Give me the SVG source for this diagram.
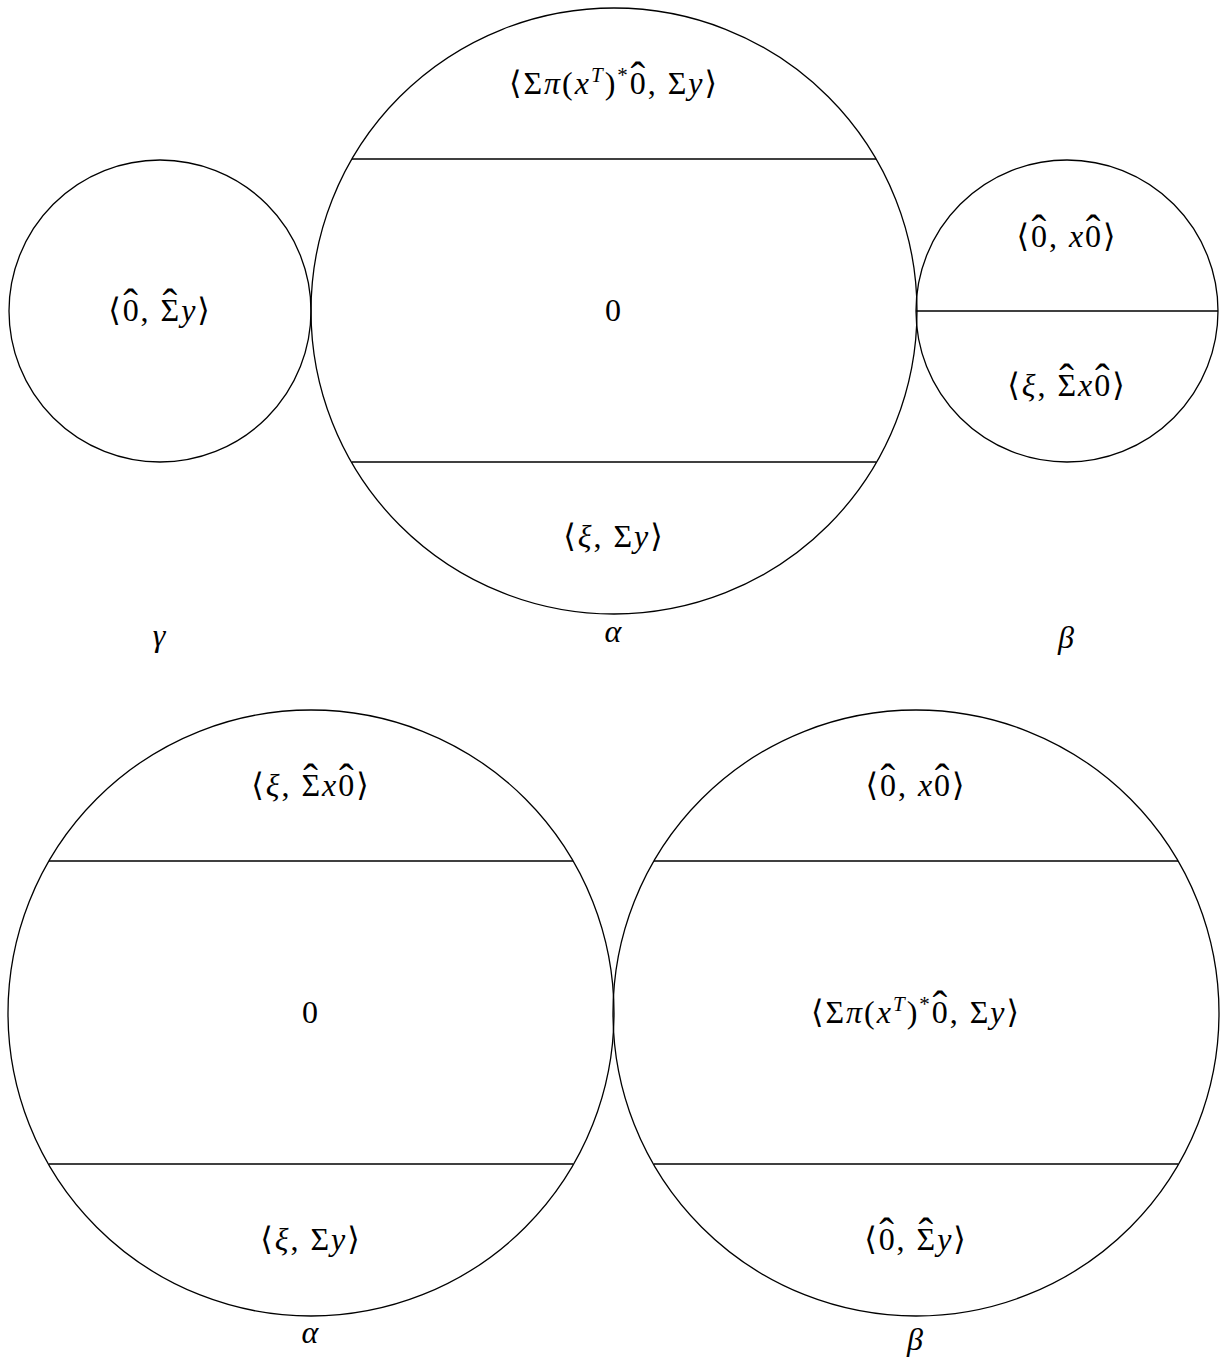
<svg xmlns="http://www.w3.org/2000/svg" width="1225" height="1357" viewBox="0 0 1225 1357">
<style>
.c{fill:none;stroke:#000;stroke-width:1.3}
.l{stroke:#000;stroke-width:1.3}
.t{font-family:'Liberation Serif','DejaVu Serif',serif;font-size:32px;fill:#000;text-anchor:middle;letter-spacing:2px}
.i{font-style:italic}
.s{font-size:21px}
.h{font-size:44px;letter-spacing:0;font-style:normal}
</style>
<rect width="1225" height="1357" fill="#fff"/>
<g id="gamma" class="t">
<circle class="c" cx="160" cy="311" r="151"/>
<text x="160" y="321">⟨<tspan>0</tspan><tspan class="h" dx="-17.35" dy="-2">ˆ</tspan><tspan dx="2.65" dy="2">, Σ</tspan><tspan class="h" dx="-18.8" dy="-2">ˆ</tspan><tspan class="i" dx="4.1" dy="2">y</tspan>⟩</text>
<text x="160" y="646" class="i">γ</text>
</g>
<g id="alpha-top" class="t">
<circle class="c" cx="614" cy="311" r="303"/>
<line class="l" x1="352" y1="159" x2="876" y2="159"/>
<line class="l" x1="352" y1="462" x2="876" y2="462"/>
<text x="614" y="94">⟨Σ<tspan class="i">π</tspan>(<tspan class="i">x</tspan><tspan class="i s" dy="-12">T</tspan><tspan dy="12">)</tspan><tspan class="s" dy="-12">*</tspan><tspan dy="12">0</tspan><tspan class="h" dx="-17.35" dy="-2">ˆ</tspan><tspan dx="2.65" dy="2">, Σ</tspan><tspan class="i">y</tspan>⟩</text>
<text x="614" y="321">0</text>
<text x="614" y="547">⟨<tspan class="i">ξ</tspan>, Σ<tspan class="i">y</tspan>⟩</text>
<text x="614" y="642" class="i">α</text>
</g>
<g id="beta-top" class="t">
<circle class="c" cx="1067" cy="311" r="151"/>
<line class="l" x1="916" y1="311" x2="1218" y2="311"/>
<text x="1067" y="247">⟨<tspan>0</tspan><tspan class="h" dx="-17.35" dy="-2">ˆ</tspan><tspan dx="2.65" dy="2">, </tspan><tspan class="i">x</tspan><tspan>0</tspan><tspan class="h" dx="-17.35" dy="-2">ˆ</tspan><tspan dx="2.65" dy="2">⟩</tspan></text>
<text x="1067" y="396">⟨<tspan class="i">ξ</tspan>, Σ<tspan class="h" dx="-18.8" dy="-2">ˆ</tspan><tspan class="i" dx="4.1" dy="2">x</tspan><tspan>0</tspan><tspan class="h" dx="-17.35" dy="-2">ˆ</tspan><tspan dx="2.65" dy="2">⟩</tspan></text>
<text x="1067" y="648" class="i">β</text>
</g>
<g id="alpha-bottom" class="t">
<circle class="c" cx="311" cy="1013" r="303"/>
<line class="l" x1="49" y1="861" x2="573" y2="861"/>
<line class="l" x1="49" y1="1164" x2="573" y2="1164"/>
<text x="311" y="796">⟨<tspan class="i">ξ</tspan>, Σ<tspan class="h" dx="-18.8" dy="-2">ˆ</tspan><tspan class="i" dx="4.1" dy="2">x</tspan><tspan>0</tspan><tspan class="h" dx="-17.35" dy="-2">ˆ</tspan><tspan dx="2.65" dy="2">⟩</tspan></text>
<text x="311" y="1023">0</text>
<text x="311" y="1250">⟨<tspan class="i">ξ</tspan>, Σ<tspan class="i">y</tspan>⟩</text>
<text x="311" y="1343" class="i">α</text>
</g>
<g id="beta-bottom" class="t">
<circle class="c" cx="916" cy="1013" r="303"/>
<line class="l" x1="654" y1="861" x2="1178" y2="861"/>
<line class="l" x1="654" y1="1164" x2="1178" y2="1164"/>
<text x="916" y="796">⟨<tspan>0</tspan><tspan class="h" dx="-17.35" dy="-2">ˆ</tspan><tspan dx="2.65" dy="2">, </tspan><tspan class="i">x</tspan><tspan>0</tspan><tspan class="h" dx="-17.35" dy="-2">ˆ</tspan><tspan dx="2.65" dy="2">⟩</tspan></text>
<text x="916" y="1023">⟨Σ<tspan class="i">π</tspan>(<tspan class="i">x</tspan><tspan class="i s" dy="-12">T</tspan><tspan dy="12">)</tspan><tspan class="s" dy="-12">*</tspan><tspan dy="12">0</tspan><tspan class="h" dx="-17.35" dy="-2">ˆ</tspan><tspan dx="2.65" dy="2">, Σ</tspan><tspan class="i">y</tspan>⟩</text>
<text x="916" y="1250">⟨<tspan>0</tspan><tspan class="h" dx="-17.35" dy="-2">ˆ</tspan><tspan dx="2.65" dy="2">, Σ</tspan><tspan class="h" dx="-18.8" dy="-2">ˆ</tspan><tspan class="i" dx="4.1" dy="2">y</tspan>⟩</text>
<text x="916" y="1350" class="i">β</text>
</g>
<g id="connectors"></g>
</svg>
